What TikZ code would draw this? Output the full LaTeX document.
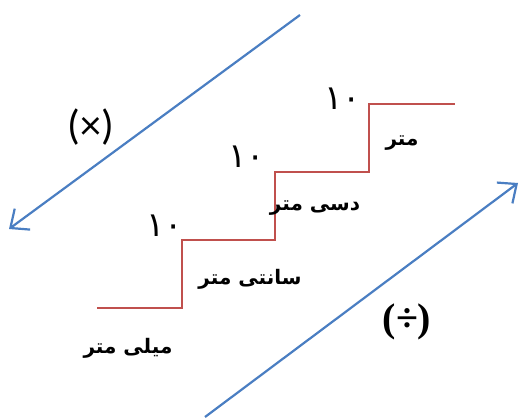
\documentclass[tikz,border=0pt]{standalone}
\usepackage{fontspec}
\usetikzlibrary{arrows.meta}
\TeXXeTstate=1
\newfontfamily\arabicfont[Script=Arabic]{DejaVu Sans}
\newfontfamily\opfont{Carlito}
\newfontfamily\divfont{Liberation Serif}
\definecolor{arrblue}{HTML}{4A7EC2}
\definecolor{stairred}{HTML}{C0504D}
\tikzset{
  bigarrow/.style={draw=arrblue, line width=2.2pt, -{Straight Barb[length=15pt,width=26pt,line width=2.2pt]}},
  stair/.style={draw=stairred, line width=2pt},
  unitlabel/.style={font=\arabicfont\bfseries\fontsize{20}{24}\selectfont, inner sep=0pt},
  numlabel/.style={font=\arabicfont\fontsize{34}{36}\selectfont, inner sep=0pt},
}
\begin{document}
\begin{tikzpicture}[x=1pt,y=-1pt]
\useasboundingbox (0,0) rectangle (520,419);
% arrows
\coordinate (a1s) at (300,15);
\coordinate (a1e) at (9,229);
\coordinate (a2s) at (205,417);
\coordinate (a2e) at (518,183);
\draw[bigarrow] (a1s) -- (a1e);
\draw[bigarrow] (a2s) -- (a2e);
% stairs
\coordinate (s0) at (97,308);
\coordinate (s1) at (182,308);
\coordinate (s2) at (182,240);
\coordinate (s3) at (275,240);
\coordinate (s4) at (275,172);
\coordinate (s5) at (369,172);
\coordinate (s6) at (369,104);
\coordinate (s7) at (455,104);
\draw[stair] (s0) -- (s1) -- (s2) -- (s3) -- (s4) -- (s5) -- (s6) -- (s7);
% numbers
\node[numlabel] (n1) at (165,226) {\beginR ۱۰\endR};
\node[numlabel] (n2) at (247,157) {\beginR ۱۰\endR};
\node[numlabel] (n3) at (343,99) {\beginR ۱۰\endR};
% units
\node[unitlabel] (u1) at (128,348) {\beginR میلی متر\endR};
\node[unitlabel] (u2) at (250,279) {\beginR سانتی متر\endR};
\node[unitlabel] (u3) at (315,208) {\beginR دسی متر\endR};
\node[unitlabel] (u4) at (402,143) {\beginR متر\endR};
% operators
\node[font=\opfont\fontsize{42}{46}\selectfont, inner sep=0pt] (mul) at (91,127) {(×)};
\node[font=\divfont\bfseries\fontsize{40}{44}\selectfont, inner sep=0pt] (div) at (407,322) {(÷)};
\end{tikzpicture}
\end{document}
